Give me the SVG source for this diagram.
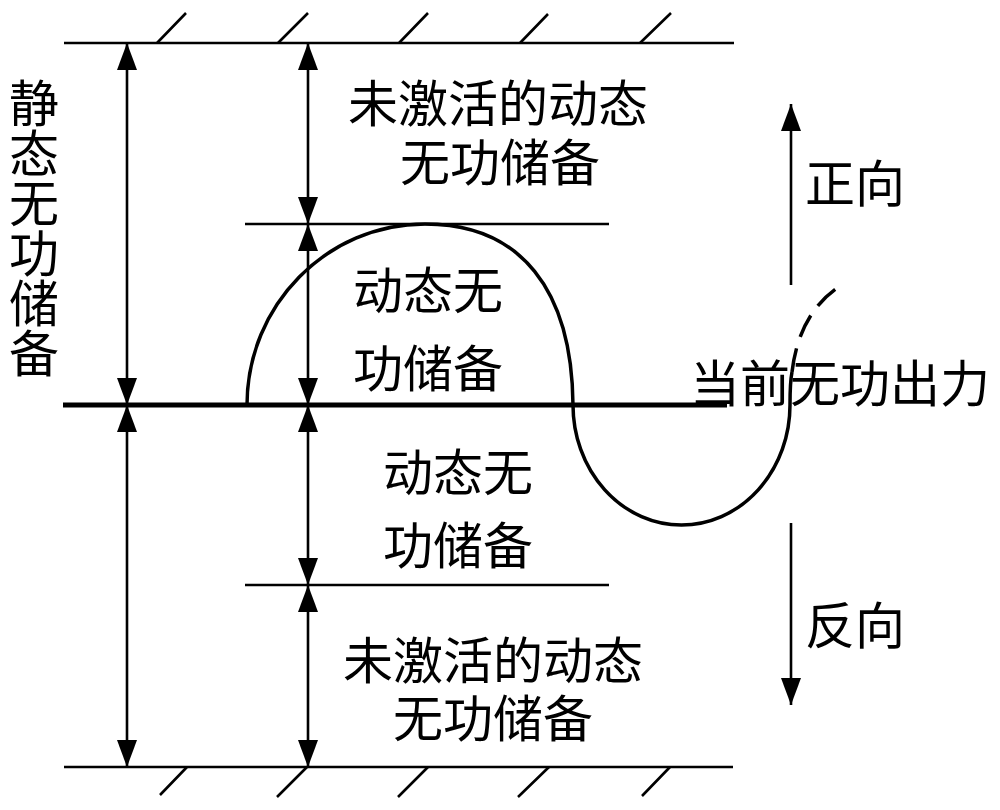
<svg xmlns="http://www.w3.org/2000/svg" width="1000" height="810" viewBox="0 0 1000 810">
<defs>
<style>
.ln{stroke:#000;stroke-width:2.6;fill:none}
.th{stroke:#000;stroke-width:5;fill:none}
.cv{stroke:#000;stroke-width:3.5;fill:none}
.ar{stroke:#000;stroke-width:2.6;fill:none;marker-start:url(#ah);marker-end:url(#ah)}
.t{font-family:"Noto Sans CJK SC","Noto Sans",sans-serif;font-size:50px;fill:#000;text-anchor:middle}
.v{font-family:"Noto Sans CJK SC","Noto Sans",sans-serif;font-size:50px;fill:#000;writing-mode:vertical-rl;text-anchor:start}
</style>
<marker id="ah" markerUnits="userSpaceOnUse" markerWidth="27" markerHeight="20" refX="27" refY="10" viewBox="0 0 27 20" orient="auto-start-reverse">
<path d="M0,0 L27,10 L0,20 Z" fill="#000"/>
</marker>
</defs>
<rect width="1000" height="810" fill="#fff"/>
<g id="walls">
<line class="ln" x1="64" y1="43" x2="734" y2="43"/>
<path class="ln" d="M157,43 L186,13 M278,43 L308,13 M399,43 L428,13 M520,43 L548,14 M640,43 L671,13"/>
<line class="ln" x1="64" y1="767" x2="733" y2="767"/>
<path class="ln" d="M187,767 L160,795 M307,767 L277,797 M428,767 L398,797 M549,767 L518,797 M670,767 L642,796"/>
</g>
<g id="levels">
<line class="th" x1="63" y1="405" x2="727" y2="405"/>
<line class="ln" x1="245" y1="224" x2="609" y2="224"/>
<line class="ln" x1="245" y1="585" x2="609" y2="585"/>
</g>
<g id="connectors">
<line class="ar" x1="127" y1="43" x2="127" y2="405"/>
<line class="ar" x1="127" y1="405" x2="127" y2="767"/>
<line class="ar" x1="308" y1="43" x2="308" y2="224"/>
<line class="ar" x1="308" y1="224" x2="308" y2="405"/>
<line class="ar" x1="308" y1="405" x2="308" y2="585"/>
<line class="ar" x1="308" y1="585" x2="308" y2="767"/>
<line class="ln" x1="791" y1="285" x2="791" y2="104" marker-end="url(#ah)"/>
<line class="ln" x1="791" y1="523" x2="791" y2="705" marker-end="url(#ah)"/>
</g>
<g id="curve">
<path class="cv" d="M247,405 C247,305 327,224 425,224 C521,224 572,290 573,405 A108.5,120 0 0 0 790,405 C790,392 790,382 792,372"/>
<path class="cv" d="M792,372 C797,330 815,300 845,283" stroke-dasharray="24 12"/>
</g>
<g id="labels">
<text id="static-label" class="v" x="34" y="78">静态无功储备</text>
<text id="upper-inactive" class="t"><tspan x="498" y="122">未激活的动态</tspan><tspan x="500" y="181">无功储备</tspan></text>
<text id="upper-dynamic" class="t"><tspan x="428" y="309">动态无</tspan><tspan x="428" y="387">功储备</tspan></text>
<text id="lower-dynamic" class="t"><tspan x="458" y="491">动态无</tspan><tspan x="458" y="564">功储备</tspan></text>
<text id="lower-inactive" class="t"><tspan x="493" y="679">未激活的动态</tspan><tspan x="493" y="737">无功储备</tspan></text>
<text id="current" class="t" x="840" y="402">当前无功出力</text>
<text id="forward" class="t" x="855" y="202">正向</text>
<text id="reverse" class="t" x="855" y="644">反向</text>
</g>
</svg>
